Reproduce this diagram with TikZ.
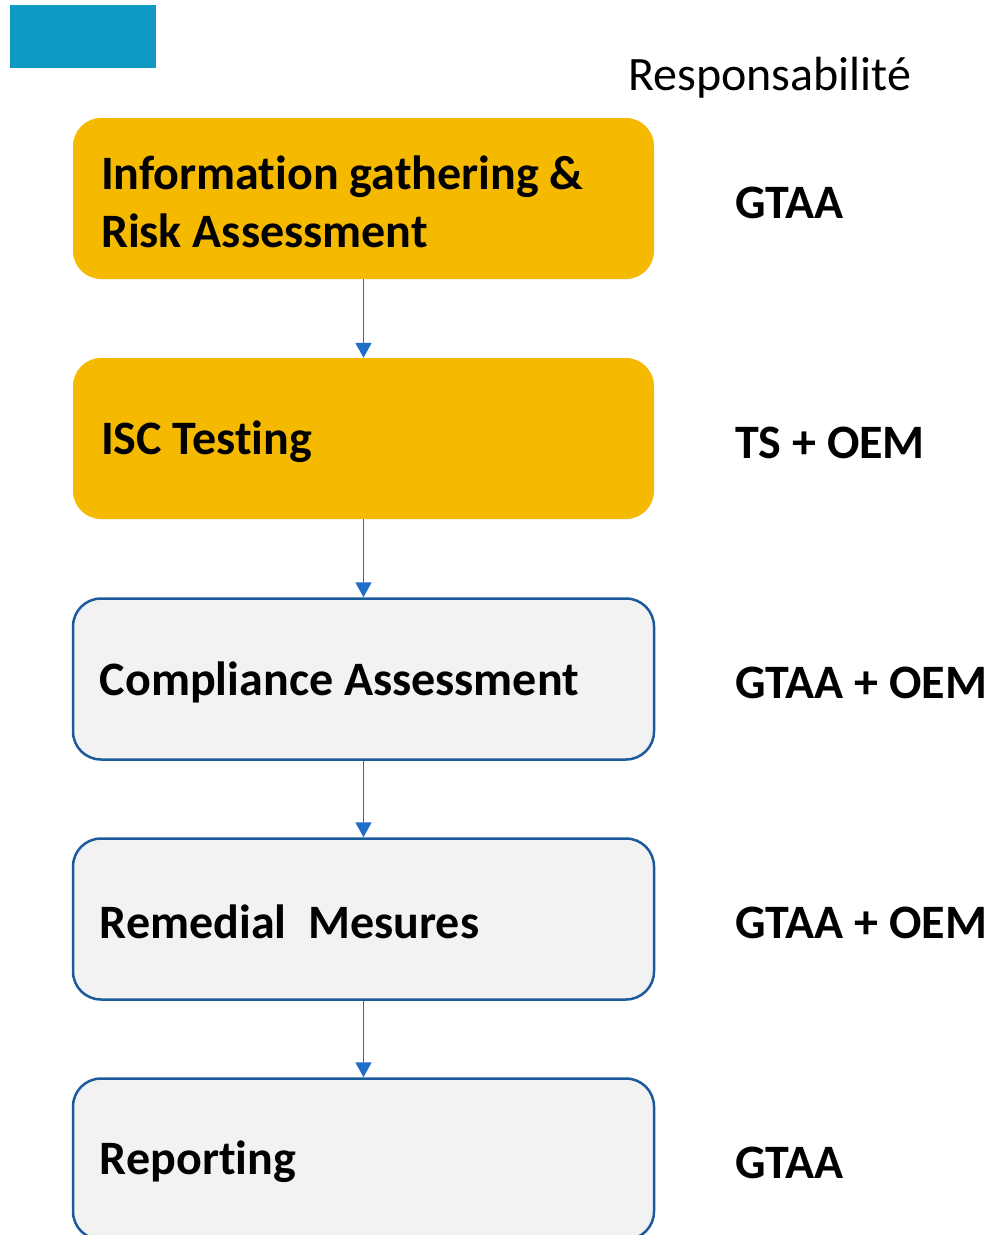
\documentclass[tikz,border=0pt]{standalone}
\usepackage{fontspec}
\setmainfont{Carlito}[Ligatures=NoCommon]
\usetikzlibrary{arrows.meta}
\definecolor{topblue}{HTML}{0F9AC4}
\definecolor{stepyellow}{HTML}{F5BA00}
\definecolor{stepgray}{HTML}{F2F2F2}
\definecolor{edgeblue}{HTML}{1C5A9E}
\definecolor{arrowblue}{HTML}{1F6FC8}
\tikzset{
  stepbox/.style={rounded corners=28pt, minimum width=581pt, minimum height=161pt, inner sep=0pt},
  hot/.style={stepbox, fill=stepyellow},
  cold/.style={stepbox, fill=stepgray, draw=edgeblue, line width=2.5pt},
  steptext/.style={anchor=west, inner sep=0pt, align=left,
    font=\fontsize{48}{58}\selectfont\bfseries},
  who/.style={anchor=west, inner sep=0pt, font=\fontsize{48}{58}\selectfont\bfseries},
  flow/.style={draw=arrowblue, line width=1.8pt, -{Triangle[width=16pt,length=15pt]}}
}
\begin{document}
\begin{tikzpicture}[x=1pt,y=-1pt]
  \useasboundingbox (0,0) rectangle (989,1235);
  \fill[topblue] (10,5) rectangle (156,68);
  \node[anchor=base west, inner sep=0pt, font=\fontsize{48}{58}\selectfont] (head) at (628,90) {Responsabilité};

  % process steps
  \node[hot]  (s1) at (363.5,198.5) {};
  \node[hot]  (s2) at (363.5,438.5) {};
  \node[cold] (s3) at (363.5,679)   {};
  \node[cold] (s4) at (363.5,919)   {};
  \node[cold] (s5) at (363.5,1159)  {};

  \node[steptext] (t1) at ([shift={(28,3)}]s1.west) {Information gathering \&\\Risk Assessment};
  \node[steptext] (t2) at ([shift={(28,3)}]s2.west) {ISC Testing};
  \node[steptext] (t3) at ([shift={(28,3)}]s3.west) {Compliance Assessment};
  \node[steptext] (t4) at ([shift={(28,3)}]s4.west) {Remedial\ \ Mesures};
  \node[steptext] (t5) at ([shift={(28,3)}]s5.west) {Reporting};

  % responsibilities
  \node[who] (r1) at (735,203)  {GTAA};
  \node[who] (r2) at (735,443)  {TS + OEM};
  \node[who] (r3) at (735,683)  {GTAA + OEM};
  \node[who] (r4) at (735,923)  {GTAA + OEM};
  \node[who] (r5) at (735,1163) {GTAA};

  \draw[flow] (s1) -- (s2);
  \draw[flow] (s2) -- (s3);
  \draw[flow] (s3) -- (s4);
  \draw[flow] (s4) -- (s5);
\end{tikzpicture}
\end{document}
